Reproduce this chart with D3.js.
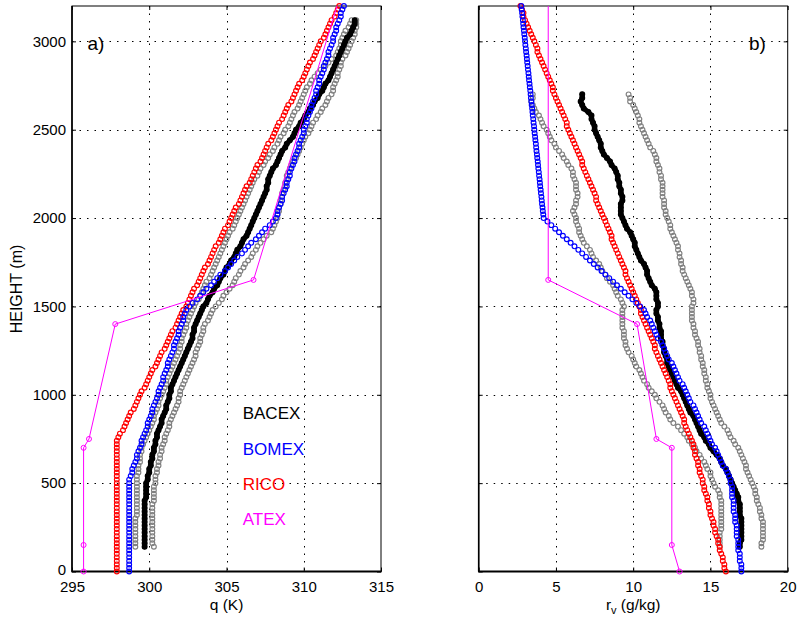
<!DOCTYPE html>
<html><head><meta charset="utf-8">
<script src="https://cdn.jsdelivr.net/npm/d3@7"></script>
<style>body{margin:0;background:#fff}svg{display:block;font-family:"Liberation Sans",Arial,Helvetica,sans-serif}</style>
</head><body><div id="chart"></div>
<script>
// ---------------- DATA ----------------
const heights = [
0,20,40,60,80,100,120,140,160,180,
200,220,240,260,280,300,320,340,360,380,
400,420,440,460,480,500,520,540,560,580,
600,620,640,660,680,700,720,740,760,780,
800,820,840,860,880,900,920,940,960,980,
1000,1020,1040,1060,1080,1100,1120,1140,1160,1180,
1200,1220,1240,1260,1280,1300,1320,1340,1360,1380,
1400,1420,1440,1460,1480,1500,1520,1540,1560,1580,
1600,1620,1640,1660,1680,1700,1720,1740,1760,1780,
1800,1820,1840,1860,1880,1900,1920,1940,1960,1980,
2000,2020,2040,2060,2080,2100,2120,2140,2160,2180,
2200,2220,2240,2260,2280,2300,2320,2340,2360,2380,
2400,2420,2440,2460,2480,2500,2520,2540,2560,2580,
2600,2620,2640,2660,2680,2700,2720,2740,2760,2780,
2800,2820,2840,2860,2880,2900,2920,2940,2960,2980,
3000,3020,3040,3060,3080,3100,3120,3140,3160,3180,
3200];

// panel a: potential temperature (K) on the height grid
const ricoTheta = [
297.9,297.9,297.9,297.9,297.9,297.9,297.9,297.9,297.9,297.9,
297.9,297.9,297.9,297.9,297.9,297.9,297.9,297.9,297.9,297.9,
297.9,297.9,297.9,297.9,297.9,297.9,297.9,297.9,297.9,297.9,
297.9,297.9,297.9,297.9,297.9,297.9,297.9,297.9,298.0,298.1,
298.3,298.4,298.5,298.6,298.7,298.8,299.0,299.1,299.2,299.3,
299.4,299.5,299.7,299.8,299.9,300.0,300.1,300.2,300.4,300.5,
300.6,300.7,300.8,301.0,301.1,301.2,301.3,301.4,301.5,301.7,
301.8,301.9,302.0,302.1,302.2,302.4,302.5,302.6,302.7,302.8,
302.9,303.1,303.2,303.3,303.4,303.5,303.6,303.8,303.9,304.0,
304.1,304.2,304.3,304.5,304.6,304.7,304.8,304.9,305.1,305.2,
305.3,305.4,305.5,305.6,305.8,305.9,306.0,306.1,306.2,306.3,
306.5,306.6,306.7,306.8,306.9,307.0,307.2,307.3,307.4,307.5,
307.6,307.7,307.9,308.0,308.1,308.2,308.3,308.4,308.6,308.7,
308.8,308.9,309.0,309.2,309.3,309.4,309.5,309.6,309.7,309.9,
310.0,310.1,310.2,310.3,310.4,310.6,310.7,310.8,310.9,311.0,
311.1,311.3,311.4,311.5,311.6,311.7,311.8,312.0,312.1,312.2,
312.3];
const bomexTheta = [
298.7,298.7,298.7,298.7,298.7,298.7,298.7,298.7,298.7,298.7,
298.7,298.7,298.7,298.7,298.7,298.7,298.7,298.7,298.7,298.7,
298.7,298.7,298.7,298.7,298.7,298.7,298.7,298.8,298.9,298.9,
299.0,299.1,299.2,299.2,299.3,299.4,299.5,299.5,299.6,299.7,
299.8,299.9,299.9,300.0,300.1,300.2,300.2,300.3,300.4,300.5,
300.6,300.6,300.7,300.8,300.9,300.9,301.0,301.1,301.2,301.2,
301.3,301.4,301.5,301.6,301.6,301.7,301.8,301.9,301.9,302.0,
302.1,302.2,302.2,302.3,302.4,302.6,302.8,303.1,303.3,303.5,
303.7,304.0,304.2,304.4,304.6,304.9,305.1,305.3,305.5,305.7,
306.0,306.2,306.4,306.6,306.9,307.1,307.3,307.5,307.8,308.0,
308.2,308.3,308.3,308.4,308.5,308.6,308.6,308.7,308.8,308.9,
308.9,309.0,309.1,309.1,309.2,309.3,309.4,309.4,309.5,309.6,
309.7,309.7,309.8,309.9,310.0,310.0,310.1,310.2,310.2,310.3,
310.4,310.5,310.5,310.6,310.7,310.8,310.8,310.9,311.0,311.0,
311.1,311.2,311.3,311.3,311.4,311.5,311.6,311.6,311.7,311.8,
311.9,311.9,312.0,312.1,312.1,312.2,312.3,312.4,312.4,312.5,
312.6];

// panel b: water vapour mixing ratio (g/kg) on the height grid
const ricoQv = [
16.0,15.9,15.9,15.8,15.8,15.7,15.6,15.6,15.5,15.5,
15.4,15.3,15.3,15.2,15.2,15.1,15.0,15.0,14.9,14.9,
14.8,14.8,14.7,14.6,14.6,14.5,14.5,14.4,14.3,14.3,
14.2,14.2,14.1,14.0,14.0,13.9,13.9,13.8,13.7,13.6,
13.5,13.4,13.3,13.3,13.2,13.1,13.0,12.9,12.8,12.7,
12.6,12.5,12.4,12.4,12.3,12.2,12.1,12.0,11.9,11.8,
11.7,11.6,11.5,11.4,11.4,11.3,11.2,11.1,11.0,10.9,
10.8,10.7,10.6,10.5,10.5,10.4,10.3,10.2,10.1,10.0,
9.9,9.8,9.7,9.6,9.5,9.5,9.4,9.3,9.2,9.1,
9.0,8.9,8.8,8.7,8.6,8.6,8.5,8.4,8.3,8.2,
8.1,8.0,7.9,7.8,7.7,7.6,7.6,7.5,7.4,7.3,
7.2,7.1,7.0,6.9,6.8,6.7,6.7,6.6,6.5,6.4,
6.3,6.2,6.1,6.0,5.9,5.8,5.7,5.7,5.6,5.5,
5.4,5.3,5.2,5.1,5.0,4.9,4.8,4.8,4.7,4.6,
4.5,4.4,4.3,4.2,4.1,4.0,3.9,3.8,3.8,3.7,
3.6,3.5,3.4,3.3,3.2,3.1,3.0,2.9,2.9,2.8,
2.7];
const bomexQv = [
17.0,17.0,17.0,16.9,16.9,16.9,16.8,16.8,16.8,16.8,
16.7,16.7,16.7,16.7,16.6,16.6,16.6,16.5,16.5,16.5,
16.5,16.4,16.4,16.4,16.4,16.3,16.3,16.2,16.1,16.0,
15.8,15.7,15.6,15.5,15.4,15.3,15.1,15.0,14.9,14.8,
14.7,14.6,14.4,14.3,14.2,14.1,14.0,13.9,13.7,13.6,
13.5,13.4,13.3,13.2,13.0,12.9,12.8,12.7,12.6,12.5,
12.3,12.2,12.1,12.0,11.9,11.8,11.6,11.5,11.4,11.3,
11.2,11.1,10.9,10.8,10.7,10.45,10.2,9.95,9.7,9.45,
9.2,8.95,8.7,8.45,8.2,7.95,7.7,7.45,7.2,6.95,
6.7,6.45,6.2,5.95,5.7,5.45,5.2,4.95,4.7,4.45,
4.2,4.18,4.15,4.13,4.1,4.08,4.06,4.03,4.01,3.98,
3.96,3.94,3.91,3.89,3.86,3.84,3.82,3.79,3.77,3.74,
3.72,3.7,3.67,3.65,3.62,3.6,3.58,3.55,3.53,3.5,
3.48,3.46,3.43,3.41,3.38,3.36,3.34,3.31,3.29,3.26,
3.24,3.22,3.19,3.17,3.14,3.12,3.1,3.07,3.05,3.02,
3.0,2.98,2.95,2.93,2.9,2.88,2.86,2.83,2.81,2.78,
2.76];

// BACEX observations start at 140 m on the same 20 m grid
const bacexStart = 140;
const bacexThetaA = [
299.7,299.7,299.7,299.7,299.7,299.7,299.7,299.7,299.7,299.7,
299.7,299.7,299.7,299.7,299.8,299.8,299.8,299.8,299.8,299.9,
299.9,300.0,300.0,300.1,300.1,300.2,300.2,300.3,300.3,300.4,
300.4,300.5,300.5,300.6,300.7,300.8,300.8,300.9,301.0,301.1,
301.1,301.2,301.3,301.3,301.4,301.4,301.5,301.6,301.7,301.8,
301.9,302.0,302.1,302.2,302.3,302.4,302.5,302.6,302.7,302.8,
302.8,302.9,302.9,303.0,303.1,303.2,303.3,303.4,303.5,303.7,
303.8,303.9,304.1,304.2,304.4,304.5,304.6,304.8,304.9,305.0,
305.2,305.3,305.5,305.6,305.7,305.9,306.0,306.1,306.3,306.4,
306.5,306.6,306.7,306.8,306.9,307.0,307.1,307.2,307.3,307.4,
307.5,307.6,307.6,307.7,307.7,307.8,307.9,308.0,308.2,308.3,
308.4,308.5,308.6,308.8,308.9,309.1,309.3,309.4,309.5,309.7,
309.8,310.0,310.1,310.3,310.4,310.6,310.7,310.9,311.0,311.2,
311.3,311.4,311.6,311.7,311.8,311.9,312.0,312.1,312.2,312.3,
312.4,312.5,312.6,312.7,312.8,313.0,313.1,313.2,313.3,313.3];
const bacexThetaHiA = [
300.3,300.2,300.2,300.2,300.2,300.2,300.2,300.2,300.2,300.2,
300.2,300.2,300.2,300.3,300.3,300.3,300.3,300.3,300.4,300.4,
300.4,300.5,300.5,300.6,300.6,300.7,300.7,300.8,300.8,300.9,
301.0,301.0,301.1,301.2,301.3,301.3,301.4,301.5,301.6,301.7,
301.8,301.9,301.9,302.0,302.0,302.1,302.2,302.3,302.4,302.5,
302.6,302.7,302.8,302.9,303.0,303.0,303.1,303.2,303.3,303.3,
303.4,303.5,303.5,303.6,303.8,303.9,304.0,304.1,304.3,304.5,
304.7,304.8,305.0,305.2,305.4,305.5,305.6,305.8,305.9,306.1,
306.2,306.4,306.6,306.7,306.9,307.0,307.2,307.4,307.6,307.9,
308.0,308.1,308.2,308.3,308.3,308.4,308.4,308.5,308.5,308.6,
308.6,308.7,308.8,308.8,308.9,308.9,309.0,309.1,309.2,309.3,
309.5,309.6,309.7,309.8,309.9,310.0,310.1,310.3,310.4,310.5,
310.6,310.8,310.9,311.1,311.2,311.4,311.5,311.6,311.8,311.9,
311.9,312.0,312.1,312.2,312.2,312.3,312.4,312.4,312.5,312.7,
312.8,312.9,313.0,313.1,313.2,313.3,313.3,313.4,313.4,313.4];
const bacexThetaLoA = [
299.1,299.1,299.1,299.1,299.1,299.1,299.1,299.1,299.1,299.2,
299.2,299.2,299.2,299.2,299.2,299.2,299.2,299.2,299.2,299.2,
299.2,299.3,299.3,299.3,299.4,299.4,299.4,299.5,299.5,299.6,
299.7,299.8,299.9,300.0,300.1,300.2,300.3,300.3,300.4,300.5,
300.6,300.6,300.7,300.8,300.9,301.0,301.1,301.1,301.2,301.3,
301.4,301.5,301.6,301.7,301.8,301.9,302.0,302.0,302.1,302.1,
302.2,302.3,302.4,302.4,302.5,302.6,302.7,302.8,302.9,303.0,
303.2,303.3,303.4,303.5,303.6,303.7,303.9,304.0,304.1,304.2,
304.3,304.4,304.5,304.6,304.7,304.8,304.9,305.0,305.1,305.2,
305.4,305.5,305.6,305.7,305.8,305.9,306.0,306.1,306.2,306.3,
306.4,306.5,306.6,306.7,306.8,307.0,307.1,307.2,307.4,307.5,
307.7,307.8,308.0,308.1,308.3,308.4,308.5,308.7,308.8,309.0,
309.1,309.2,309.3,309.4,309.6,309.7,309.8,309.9,310.0,310.1,
310.2,310.4,310.5,310.7,310.9,311.1,311.4,311.6,311.8,312.1,
312.2,312.3,312.4,312.4,312.5,312.6,312.7,312.9,313.0,313.1];

const bacexQvB = [
16.9,16.9,17.0,17.0,17.0,17.0,17.0,17.0,17.0,16.9,
16.9,16.9,16.9,16.8,16.8,16.7,16.6,16.5,16.4,16.3,
16.2,16.1,16.0,15.8,15.7,15.6,15.4,15.2,15.0,14.9,
14.7,14.6,14.4,14.3,14.2,14.1,14.0,13.9,13.7,13.6,
13.5,13.4,13.3,13.2,13.1,12.9,12.8,12.7,12.6,12.5,
12.4,12.3,12.2,12.2,12.1,12.0,12.0,11.9,11.9,11.8,
11.8,11.8,11.7,11.7,11.6,11.6,11.5,11.5,11.6,11.6,
11.5,11.5,11.5,11.4,11.2,11.1,11.0,10.9,10.9,10.8,
10.7,10.5,10.4,10.3,10.2,10.1,10.1,10.0,9.9,9.8,
9.6,9.5,9.4,9.3,9.2,9.2,9.2,9.2,9.3,9.3,
9.2,9.2,9.1,9.1,9.0,9.0,8.9,8.8,8.6,8.5,
8.3,8.1,8.0,7.9,7.9,7.8,7.7,7.6,7.5,7.5,
7.4,7.3,7.3,7.1,6.8,6.7,6.6,6.7,6.7];
const bacexQvLoB = [
15.6,15.6,15.6,15.6,15.6,15.7,15.7,15.7,15.7,15.7,
15.7,15.7,15.7,15.7,15.6,15.6,15.5,15.3,15.2,15.1,
15.0,15.0,14.8,14.7,14.6,14.4,14.3,14.1,14.0,13.8,
13.6,13.5,13.3,13.1,12.9,12.6,12.4,12.3,12.1,12.0,
11.9,11.7,11.5,11.4,11.2,11.0,10.9,10.7,10.6,10.5,
10.4,10.2,10.1,10.0,9.9,9.7,9.6,9.5,9.5,9.4,
9.4,9.4,9.3,9.3,9.3,9.3,9.3,9.3,9.4,9.3,
9.2,9.0,8.9,8.8,8.7,8.5,8.3,8.2,8.0,7.9,
7.8,7.6,7.4,7.3,7.2,7.0,6.8,6.7,6.6,6.5,
6.5,6.4,6.3,6.3,6.2,6.1,6.2,6.3,6.3,6.4,
6.4,6.3,6.3,6.3,6.2,6.1,6.1,6.0,5.8,5.7,
5.5,5.4,5.2,5.0,4.9,4.7,4.6,4.5,4.4,4.2,
4.1,4.0,3.9,3.7,3.6,3.5,3.4,3.5,3.5];
const bacexQvHiB = [
18.3,18.3,18.4,18.4,18.4,18.4,18.4,18.4,18.3,18.3,
18.2,18.2,18.1,18.0,18.0,17.9,17.9,17.8,17.7,17.6,
17.5,17.4,17.3,17.3,17.2,17.1,17.0,16.9,16.8,16.6,
16.5,16.3,16.2,16.1,15.9,15.7,15.6,15.5,15.4,15.3,
15.2,15.1,15.0,15.0,14.9,14.8,14.8,14.7,14.7,14.6,
14.6,14.5,14.5,14.4,14.4,14.3,14.3,14.2,14.2,14.1,
14.0,14.0,13.9,13.9,13.8,13.8,13.8,13.8,13.8,13.9,
13.9,13.8,13.8,13.7,13.6,13.5,13.4,13.3,13.2,13.2,
13.1,13.1,13.0,13.0,12.9,12.9,12.8,12.7,12.6,12.5,
12.4,12.4,12.3,12.2,12.1,12.1,12.0,12.0,12.0,11.9,
11.9,11.9,11.9,11.9,11.8,11.8,11.7,11.7,11.6,11.5,
11.5,11.4,11.3,11.1,11.0,10.9,10.8,10.7,10.6,10.5,
10.4,10.4,10.3,10.2,10.1,10.0,9.8,9.8,9.7];

// ATEX initial profile (break points)
const atexHeights = [0,150,700,750,1400,1650,3500];
const atexTheta = [295.75,295.75,295.75,296.1,297.8,306.75,313.2];
const atexQv = [13.0,12.5,12.5,11.5,10.25,4.5,4.5];

// axes
const yTicks = [0,500,1000,1500,2000,2500,3000];
const xTicksA = [295,300,305,310,315];
const xTicksB = [0,5,10,15,20];
const legendNames = ['BACEX','BOMEX','RICO','ATEX'];
const legendColors = ['#000000','#0000ff','#ff0000','#ff00ff'];

// ---------------- DRAWING ----------------
const W=797,H=622;
const svg=d3.select('#chart').append('svg').attr('width',W).attr('height',H);
svg.append('rect').attr('width',W).attr('height',H).attr('fill','#fff');
const y=d3.scaleLinear().domain([0,3200]).range([571.5,6]);
const TOP=y.range()[1], BOT=y.range()[0];
const i0=heights.indexOf(bacexStart);
const zObsA=heights.slice(i0,i0+bacexThetaA.length);
const zObsB=heights.slice(i0,i0+bacexQvB.length);
const GREY='#808080';

const panels=[
 {left:72,right:381,domain:[295,315],ticks:xTicksA,tag:'a)',tagX:87.5,ylabels:true,
  series:[
   {z:zObsA,v:bacexThetaLoA,color:GREY,kind:'open'},
   {z:zObsA,v:bacexThetaHiA,color:GREY,kind:'open'},
   {z:zObsA,v:bacexThetaA,color:'#000',kind:'filled'},
   {z:heights,v:ricoTheta,color:'#ff0000',kind:'open'},
   {z:heights,v:bomexTheta,color:'#0000ff',kind:'open'},
   {z:atexHeights,v:atexTheta,color:'#ff00ff',kind:'line'}]},
 {left:478.7,right:787.7,domain:[0,20],ticks:xTicksB,tag:'b)',tagX:749,ylabels:false,
  series:[
   {z:zObsB,v:bacexQvLoB,color:GREY,kind:'open'},
   {z:zObsB,v:bacexQvHiB,color:GREY,kind:'open'},
   {z:zObsB,v:bacexQvB,color:'#000',kind:'filled'},
   {z:heights,v:ricoQv,color:'#ff0000',kind:'open'},
   {z:heights,v:bomexQv,color:'#0000ff',kind:'open'},
   {z:atexHeights,v:atexQv,color:'#ff00ff',kind:'line'}]}
];

const FONT='"Liberation Sans",Arial,Helvetica,sans-serif';

panels.forEach((p,idx)=>{
  const x=d3.scaleLinear().domain(p.domain).range([p.left,p.right]);
  const g=svg.append('g');
  // grid
  g.selectAll('.vg').data(p.ticks.filter(t=>t>p.domain[0]&&t<p.domain[1])).join('line')
    .attr('x1',d=>Math.round(x(d))+0.5).attr('x2',d=>Math.round(x(d))+0.5)
    .attr('y1',TOP).attr('y2',BOT)
    .attr('stroke','#000').attr('stroke-width',1).attr('stroke-dasharray','1.5,6');
  g.selectAll('.hg').data(yTicks.filter(t=>t>0)).join('line')
    .attr('x1',p.left).attr('x2',p.right)
    .attr('y1',d=>Math.round(y(d))+0.5).attr('y2',d=>Math.round(y(d))+0.5)
    .attr('stroke','#000').attr('stroke-width',1).attr('stroke-dasharray','1.5,6');

  // axes (ticks inward)
  const ab=g.append('g').attr('transform',`translate(0,${BOT})`)
    .call(d3.axisBottom(x).tickValues(p.ticks).tickSizeInner(-4).tickSizeOuter(0).tickPadding(9.6));
  const at=g.append('g').attr('transform',`translate(0,${TOP})`)
    .call(d3.axisTop(x).tickValues(p.ticks).tickSizeInner(-4).tickSizeOuter(0).tickFormat(''));
  const al=g.append('g').attr('transform',`translate(${p.left},0)`)
    .call(d3.axisLeft(y).tickValues(yTicks).tickSizeInner(-4).tickSizeOuter(0).tickPadding(6)
      .tickFormat(p.ylabels? d3.format('d') : ''));
  const ar=g.append('g').attr('transform',`translate(${p.right},0)`)
    .call(d3.axisRight(y).tickValues(yTicks).tickSizeInner(-4).tickSizeOuter(0).tickFormat(''));
  [ab,at,al,ar].forEach(a=>{a.attr('font-size',null).attr('font-family',null);a.select('.domain').remove();
    a.selectAll('line').attr('stroke','#000');});
  ab.selectAll('text').style('font-size','15px').style('font-family',FONT).attr('fill','#000');
  al.selectAll('text').style('font-size','15px').style('font-family',FONT).attr('fill','#000');
  // lowest height label sits just above the first x label (as in the reference)
  al.selectAll('text').filter(d=>d===0).attr('dy','0.2em');

  // box
  g.append('rect').attr('x',p.left).attr('y',TOP).attr('width',p.right-p.left).attr('height',BOT-TOP)
    .attr('fill','none').attr('stroke','#000').attr('stroke-width',1);
  g.append('line').attr('x1',p.left-0.5).attr('x2',p.right+0.5).attr('y1',BOT).attr('y2',BOT)
    .attr('stroke','#000').attr('stroke-width',2);
  g.append('line').attr('x1',p.left).attr('x2',p.left).attr('y1',TOP).attr('y2',BOT)
    .attr('stroke','#000').attr('stroke-width',1.6);

  // clip for line series
  const cid='clip'+idx;
  svg.append('clipPath').attr('id',cid).append('rect')
    .attr('x',p.left).attr('y',TOP).attr('width',p.right-p.left).attr('height',BOT-TOP);

  p.series.forEach(s=>{
    const pts=s.z.map((z,i)=>({px:x(s.v[i]),py:y(z),z:z}));
    if(s.kind==='line'){
      g.append('path').attr('d',d3.line().x(d=>d.px).y(d=>d.py)(pts))
        .attr('fill','none').attr('stroke',s.color).attr('stroke-width',1)
        .attr('clip-path',`url(#${cid})`);
      g.append('g').selectAll('circle').data(pts.filter(d=>d.z<=3200)).join('circle')
        .attr('cx',d=>d.px).attr('cy',d=>d.py).attr('r',2.5)
        .attr('fill','none').attr('stroke',s.color).attr('stroke-width',1);
    } else if(s.kind==='filled'){
      g.append('path').attr('d',d3.line().x(d=>d.px).y(d=>d.py)(pts))
        .attr('fill','none').attr('stroke',s.color).attr('stroke-width',5)
        .attr('stroke-linejoin','round').attr('stroke-linecap','round');
      g.append('g').selectAll('circle').data(pts).join('circle')
        .attr('cx',d=>d.px).attr('cy',d=>d.py).attr('r',2.4)
        .attr('fill',s.color).attr('stroke',s.color).attr('stroke-width',1.2);
    } else {
      g.append('g').selectAll('circle').data(pts).join('circle')
        .attr('cx',d=>d.px).attr('cy',d=>d.py).attr('r',2.4)
        .attr('fill','none').attr('stroke',s.color).attr('stroke-width',1.15);
    }
  });

  // panel tag
  g.append('text').attr('x',p.tagX).attr('y',50).text(p.tag)
    .style('font-family',FONT).style('font-size','19px').attr('fill','#000');
});

// y label
svg.append('text').attr('transform','translate(16,289) rotate(-90)')
  .attr('text-anchor','middle').attr('dominant-baseline','central')
  .style('font-family',FONT).style('font-size','16px').text('HEIGHT (m)');
// x labels
svg.append('text').attr('x',226.5).attr('y',610).attr('text-anchor','middle')
  .style('font-family',FONT).style('font-size','15.5px').text('q (K)');
const xl=svg.append('text').attr('x',633.2).attr('y',610).attr('text-anchor','middle')
  .style('font-family',FONT).style('font-size','15.5px');
xl.append('tspan').text('r');
xl.append('tspan').attr('dy',4).style('font-size','11px').text('v');
xl.append('tspan').attr('dy',-4).text(' (g/kg)');

// legend (panel a)
const legY=[419,455,490,525];
svg.append('g').selectAll('text').data(legendNames).join('text')
  .attr('x',242.7).attr('y',(d,i)=>legY[i]).text(d=>d)
  .attr('fill',(d,i)=>legendColors[i])
  .style('font-family',FONT).style('font-size','17px');
</script></body></html>
